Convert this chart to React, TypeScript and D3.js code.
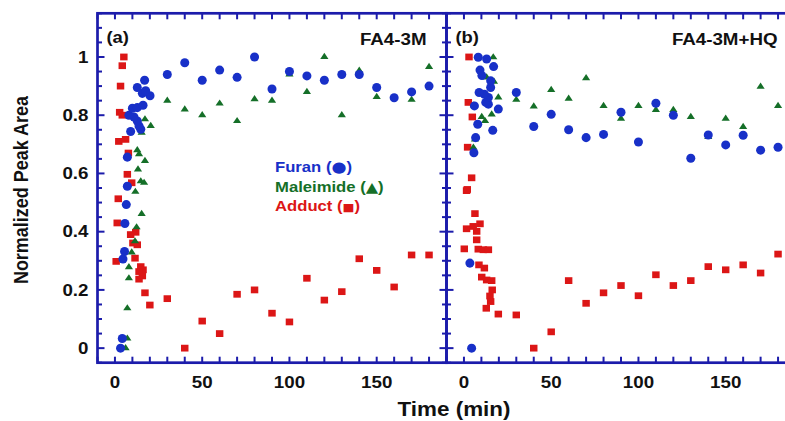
import React from "react";
import * as d3 from "d3";

type P = [number, number];

const furanA: P[] = [[3.2,0.0],[4.2,0.033],[4.6,0.306],[5.5,0.332],[5.7,0.428],[6.5,0.493],[7.1,0.556],[7.1,0.656],[9,0.744],[14.8,0.752],[13.8,0.763],[12.8,0.78],[10.9,0.794],[8,0.8],[10,0.824],[12.8,0.826],[16.1,0.834],[20.1,0.867],[15.7,0.875],[17.6,0.884],[12.8,0.895],[17,0.92],[30,0.94],[40,0.98],[50,0.92],[60,0.955],[70,0.93],[80,1.0],[90,0.89],[100,0.95],[110,0.935],[120,0.92],[130,0.94],[140,0.94],[150,0.895],[160,0.86],[170,0.88],[180,0.9]];
const maleimideA: P[] = [[6.1,0.0],[7.1,0.033],[7.1,0.137],[8,0.24],[8,0.278],[9.6,0.329],[11.5,0.367],[12.4,0.415],[15.3,0.461],[11.7,0.537],[14.8,0.573],[16.7,0.568],[13.2,0.614],[17.2,0.643],[13.8,0.666],[12.8,0.68],[15.3,0.74],[20.5,0.763],[17.2,0.786],[30,0.85],[40,0.82],[50,0.8],[60,0.84],[70,0.78],[80,0.855],[90,0.85],[100,0.94],[110,0.88],[120,1.0],[130,0.8],[140,0.953],[150,0.863],[170,0.853],[180,0.966]];
const adductA: P[] = [[0.7,0.298],[1.3,0.43],[1.9,0.513],[2.2,0.71],[2.7,0.81],[3.2,0.9],[4.2,0.97],[5.1,1.0],[4.2,0.8],[6.1,0.717],[7.7,0.67],[7.1,0.597],[9.6,0.568],[9,0.39],[11.9,0.398],[10.3,0.361],[12.8,0.355],[11.5,0.309],[14.8,0.28],[16.1,0.269],[13.8,0.263],[15.7,0.248],[13.8,0.237],[17.2,0.19],[20,0.148],[30,0.17],[40,0.0],[50,0.093],[60,0.05],[70,0.185],[80,0.2],[90,0.12],[100,0.09],[110,0.24],[120,0.165],[130,0.194],[140,0.307],[150,0.267],[160,0.21],[170,0.32],[180,0.32]];
const furanB: P[] = [[4.4,0.0],[3.4,0.292],[5.7,0.671],[6.7,0.723],[16.5,0.748],[7.9,0.769],[19.7,0.821],[6,0.832],[14,0.838],[12.5,0.844],[14,0.861],[11.7,0.872],[8.7,0.878],[15.3,0.895],[15.3,0.918],[10.3,0.936],[9.2,0.955],[17,0.967],[13,0.993],[8.2,0.999],[30,0.878],[40,0.761],[50,0.803],[60,0.75],[70,0.723],[80,0.734],[90,0.81],[100,0.708],[110,0.841],[120,0.8],[130,0.652],[140,0.732],[150,0.698],[160,0.731],[170,0.68],[180,0.69]];
const maleimideB: P[] = [[5.4,0.689],[6.3,0.717],[10.2,0.794],[12.1,0.78],[15.9,0.803],[5.7,0.834],[19.7,0.861],[13,0.93],[10.2,0.94],[17.2,0.915],[16.8,0.999],[30,0.853],[40,0.83],[50,0.887],[60,0.857],[70,0.927],[80,0.832],[90,0.788],[100,0.832],[110,0.818],[120,0.818],[130,0.794],[140,0.725],[150,0.788],[160,0.76],[170,0.898],[180,0.832]];
const adductB: P[] = [[0.2,0.341],[1.5,0.41],[1.5,0.541],[1.9,0.545],[4.4,0.585],[2.1,0.69],[4.8,0.794],[2.5,0.844],[2.9,1.0],[5.3,0.418],[6.3,0.462],[9.2,0.427],[7.3,0.401],[7.3,0.372],[8.2,0.34],[11.1,0.338],[14,0.338],[8.6,0.286],[11.7,0.275],[10.2,0.244],[13,0.234],[15.9,0.232],[16.2,0.2],[14.9,0.179],[15.3,0.16],[12.8,0.137],[19.7,0.117],[30,0.114],[40,0.0],[50,0.056],[60,0.232],[70,0.154],[80,0.19],[90,0.215],[100,0.18],[110,0.252],[120,0.215],[130,0.232],[140,0.28],[150,0.269],[160,0.286],[170,0.258],[180,0.323]];

const xTickLabels = [0, 50, 100, 150];
const yTickLabels = [0, 0.2, 0.4, 0.6, 0.8, 1];
const panelLabels = ["(a)", "(b)"];
const panelTitles = ["FA4-3M", "FA4-3M+HQ"];
const legendNames = ["Furan", "Maleimide", "Adduct"];
const legendSymbols = ["\u25CF", "\u25B2", "\u25A0"];

const W = 785, H = 421;
const FONT = "'Liberation Sans', Arial, Helvetica, sans-serif";
const SX = 1.15;
const AXIS = "#1c1cab";
const BLUE = "#1830c8";
const GREEN = "#156f28";
const RED = "#dc1616";

const TOP = 13.3, BOTTOM = 362.7;
const y = d3.scaleLinear().domain([-0.05, 1.15]).range([BOTTOM, TOP]);
const xA = d3.scaleLinear().domain([-10, 190]).range([97.5, 446.5]);
const xB = d3.scaleLinear().domain([-10, 190]).range([446.5, 795.5]);

const circlePath = d3.symbol(d3.symbolCircle, 64)()!;
const squarePath = d3.symbol(d3.symbolSquare, 46)()!;
const triPath = d3.symbol(d3.symbolTriangle, 22)()!;

function T(props: { x: number; y: number; children: any; anchor?: string; size: number; fill?: string; rotate?: boolean }) {
  const { x, y: yy, children, anchor = "start", size, fill = "#111", rotate } = props;
  return (
    <text
      transform={`translate(${x},${yy}) scale(${SX},1)${rotate ? " rotate(-90)" : ""}`}
      textAnchor={anchor}
      fontFamily={FONT}
      fontWeight="bold"
      fontSize={size}
      fill={fill}
    >
      {children}
    </text>
  );
}

function Panel({ x, fur, mal, add, idx }: { x: d3.ScaleLinear<number, number>; fur: P[]; mal: P[]; add: P[]; idx: number }) {
  const [x0, x1] = x.range();
  const xt = d3.range(-10, 191, 10);
  const yMinor = d3.range(-0.05, 1.151, 0.05).map((v) => Math.round(v * 100) / 100);
  return (
    <g>
      {add.map((d, i) => (
        <path key={"r" + i} d={squarePath} transform={`translate(${x(d[0])},${y(d[1])}) scale(1.1,1)`} fill={RED} />
      ))}
      {mal.map((d, i) => (
        <path key={"g" + i} d={triPath} transform={`translate(${x(d[0])},${y(d[1])}) scale(1.15,1)`} fill={GREEN} />
      ))}
      {fur.map((d, i) => (
        <path key={"b" + i} d={circlePath} transform={`translate(${x(d[0])},${y(d[1])})`} fill={BLUE} />
      ))}
      {xt.map((t) => (
        <g key={"xt" + t}>
          <line x1={x(t)} x2={x(t)} y1={TOP} y2={TOP + 6} stroke={AXIS} strokeWidth={2} />
          <line x1={x(t)} x2={x(t)} y1={BOTTOM} y2={BOTTOM - 6} stroke={AXIS} strokeWidth={2} />
        </g>
      ))}
      {yMinor.map((v) => {
        const major = Math.abs(Math.round(v * 10) / 10 - v) < 1e-6 && Math.round(v * 10) % 2 === 0;
        const len = major ? 7 : 4.5;
        return idx === 0 ? (
          <line key={"yt" + v} x1={x0} x2={x0 + len} y1={y(v)} y2={y(v)} stroke={AXIS} strokeWidth={2} />
        ) : (
          <line key={"yt" + v} x1={x0 - len} x2={x0 + len} y1={y(v)} y2={y(v)} stroke={AXIS} strokeWidth={2} />
        );
      })}
      <rect x={x0} y={TOP} width={x1 - x0} height={BOTTOM - TOP} fill="none" stroke={AXIS} strokeWidth={2.7} />
      {xTickLabels.map((t) => (
        <T key={"xl" + t} x={x(t)} y={388.3} anchor="middle" size={16.3}>{t}</T>
      ))}
      <T x={x0 + 9} y={42.8} size={16} >{panelLabels[idx]}</T>
      <T x={idx === 0 ? 426.5 : 777.5} y={44.8} anchor="end" size={16.3}>{panelTitles[idx]}</T>
    </g>
  );
}

export default function App() {
  const legendColors = [BLUE, GREEN, RED];
  const legendY = [172, 191.5, 211];
  const symbolSize = [15, 14, 11];
  return (
    <div style={{ position: "fixed", left: 0, top: 0, width: W, height: H, background: "#fff" }}>
      <svg width={W} height={H} viewBox={`0 0 ${W} ${H}`} style={{ display: "block" }}>
        <rect width={W} height={H} fill="#fff" />
        <Panel x={xA} fur={furanA} mal={maleimideA} add={adductA} idx={0} />
        <Panel x={xB} fur={furanB} mal={maleimideB} add={adductB} idx={1} />
        {yTickLabels.map((v) => (
          <T key={"yl" + v} x={88.5} y={y(v) + 5.8} anchor="end" size={16.3}>{v === 0 || v === 1 ? String(v) : v.toFixed(1)}</T>
        ))}
        <T x={28} y={190} anchor="middle" size={18} rotate>Normalized Peak Area</T>
        <T x={454} y={416} anchor="middle" size={19.5}>Time (min)</T>
        {legendNames.map((s, i) => (
          <T key={"lg" + i} x={275} y={legendY[i]} size={14.5} fill={legendColors[i]}>
            {s + " ("}
            <tspan fontFamily="'DejaVu Sans', sans-serif" fontSize={symbolSize[i]}>{legendSymbols[i]}</tspan>
            {")"}
          </T>
        ))}
      </svg>
    </div>
  );
}
